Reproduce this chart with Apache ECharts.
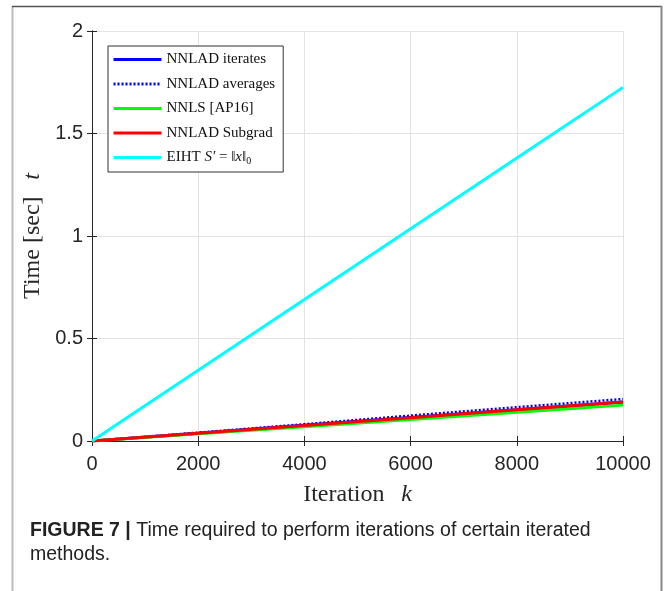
<!DOCTYPE html>
<html>
<head>
<meta charset="utf-8">
<script src="https://cdn.jsdelivr.net/npm/echarts@6/dist/echarts.min.js"></script>
<style>
  html, body { margin: 0; padding: 0; background: #fff; }
  #app { width: 665px; height: 591px; }
</style>
</head>
<body>
<div id="app"></div>
<script>
const iterations = [0, 2000, 4000, 6000, 8000, 10000];

// time in seconds for each method
const nnladIterates = [0, 0.038, 0.077, 0.115, 0.152, 0.19];
const nnladAverages = [0, 0.041, 0.082, 0.124, 0.165, 0.205];
const nnlsAP16 = [0, 0.035, 0.070, 0.105, 0.140, 0.175];
const nnladSubgrad = [0, 0.038, 0.076, 0.114, 0.152, 0.19];
const eiht = [0, 0.345, 0.690, 1.035, 1.380, 1.725];

const seriesNames = ['NNLAD iterates', 'NNLAD averages', 'NNLS [AP16]', 'NNLAD Subgrad', 'EIHT'];

const pairs = (ys) => iterations.map((x, i) => [x, ys[i]]);

const chart = echarts.init(document.getElementById('app'));

const axisColor = '#262626';
const serif = 'Liberation Serif';
const sans = 'Liberation Sans';

const makeLine = (name, data, color, type, width) => ({
  name: name,
  type: 'line',
  data: pairs(data),
  symbol: 'none',
  silent: true,
  xAxisIndex: 0,
  yAxisIndex: 0,
  lineStyle: { color: color, width: width, type: type },
  itemStyle: { color: color }
});

const option = {
  animation: false,
  backgroundColor: '#fff',
  grid: { left: 92, right: 42, top: 31, bottom: 150 },
  legend: {
    orient: 'vertical',
    left: 108,
    top: 46,
    data: seriesNames,
    itemWidth: 48,
    itemHeight: 14,
    itemGap: 9.5,
    padding: [6, 8, 6, 4],
    backgroundColor: '#fff',
    borderColor: '#333',
    borderWidth: 1,
    borderRadius: 0,
    selectedMode: false,
    itemStyle: { opacity: 0 },
    lineStyle: { width: 3 },
    formatter: (name) => name === 'EIHT' ? 'EIHT {i|S′} = ‖{i|x}‖{s|0}' : name,
    textStyle: {
      fontFamily: serif,
      fontSize: 15,
      color: '#111',
      rich: {
        i: { fontFamily: serif, fontStyle: 'italic', fontSize: 15, color: '#111' },
        s: { fontFamily: serif, fontSize: 10, color: '#111', padding: [7, 0, 0, 0] }
      }
    }
  },
  xAxis: [{
    type: 'value',
    min: 0,
    max: 10000,
    interval: 2000,
    name: '{r|Iteration}     {i|k}',
    nameLocation: 'middle',
    nameGap: 42,
    nameTextStyle: {
      rich: {
        r: { fontFamily: serif, fontSize: 24, color: axisColor },
        i: { fontFamily: serif, fontStyle: 'italic', fontSize: 24, color: axisColor }
      }
    },
    axisLine: { show: true, lineStyle: { color: axisColor, width: 1 } },
    axisTick: { show: true, inside: true, length: 5, lineStyle: { color: axisColor } },
    axisLabel: { fontFamily: sans, fontSize: 20, color: axisColor, margin: 13, formatter: (v) => String(v) },
    splitLine: { show: true, lineStyle: { color: '#e3e3e3', width: 1 } }
  }, {
    type: 'value',
    position: 'top',
    min: 0,
    max: 10000,
    interval: 2000,
    axisLine: { show: true, lineStyle: { color: axisColor, width: 1 } },
    axisTick: { show: true, inside: true, length: 5, lineStyle: { color: axisColor } },
    axisLabel: { show: false },
    splitLine: { show: false }
  }],
  yAxis: [{
    type: 'value',
    min: 0,
    max: 2,
    interval: 0.5,
    name: '{r|Time [sec]}     {i|t}',
    nameLocation: 'middle',
    nameRotate: 90,
    nameGap: 45,
    nameTextStyle: {
      rich: {
        r: { fontFamily: serif, fontSize: 24, color: axisColor },
        i: { fontFamily: serif, fontStyle: 'italic', fontSize: 24, color: axisColor }
      }
    },
    axisLine: { show: true, lineStyle: { color: axisColor, width: 1 } },
    axisTick: { show: true, inside: true, length: 5, lineStyle: { color: axisColor } },
    axisLabel: { fontFamily: sans, fontSize: 20, color: axisColor, margin: 9 },
    splitLine: { show: true, lineStyle: { color: '#e3e3e3', width: 1 } }
  }, {
    type: 'value',
    position: 'right',
    min: 0,
    max: 2,
    interval: 0.5,
    axisLine: { show: true, lineStyle: { color: axisColor, width: 1 } },
    axisTick: { show: true, inside: true, length: 5, lineStyle: { color: axisColor } },
    axisLabel: { show: false },
    splitLine: { show: false }
  }],
  series: [
    makeLine(seriesNames[0], nnladIterates, '#0000ff', 'solid', 3),
    makeLine(seriesNames[1], nnladAverages, '#0000ff', [2, 2], 2.5),
    makeLine(seriesNames[2], nnlsAP16, '#00ff00', 'solid', 3),
    makeLine(seriesNames[3], nnladSubgrad, '#ff0000', 'solid', 3),
    makeLine(seriesNames[4], eiht, '#00ffff', 'solid', 3)
  ],
  graphic: [
    // outer page frame
    { type: 'line', shape: { x1: 12.5, y1: 6, x2: 12.5, y2: 591 }, style: { stroke: '#bbb', lineWidth: 2 } },
    { type: 'line', shape: { x1: 12, y1: 6.5, x2: 662, y2: 6.5 }, style: { stroke: '#555', lineWidth: 1.5 } },
    { type: 'line', shape: { x1: 661.5, y1: 6, x2: 661.5, y2: 591 }, style: { stroke: '#888', lineWidth: 2 } },
    // caption
    {
      type: 'text',
      left: 30,
      top: 519,
      style: {
        text: '{b|FIGURE 7 |} Time required to perform iterations of certain iterated\nmethods.',
        fontFamily: sans,
        fontSize: 19.5,
        lineHeight: 24,
        fill: '#222',
        rich: {
          b: { fontFamily: sans, fontSize: 19.5, fontWeight: 'bold', fill: '#222', lineHeight: 24 }
        }
      }
    }
  ]
};

chart.setOption(option);
</script>
</body>
</html>
